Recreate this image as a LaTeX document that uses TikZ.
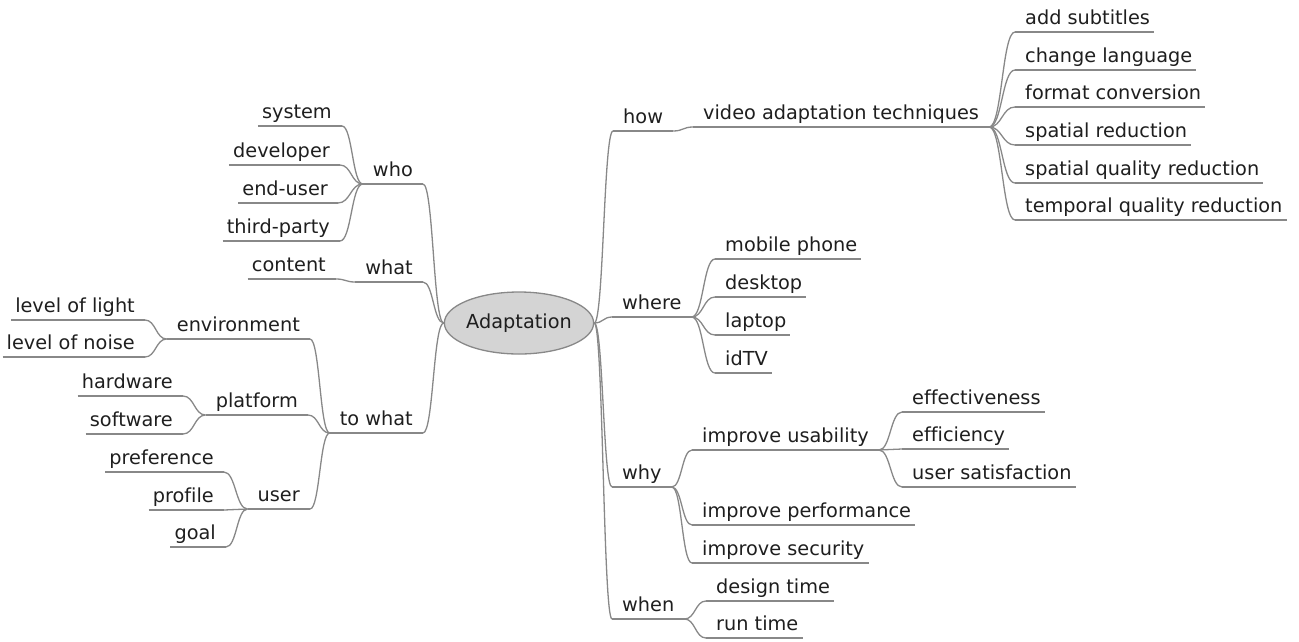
\documentclass[tikz,border=0pt]{standalone}
\usepackage{fontspec}
\setmainfont{DejaVu Sans}[Ligatures=NoCommon]
\usetikzlibrary{calc,shapes.geometric}

\definecolor{edgegray}{HTML}{888888}
\definecolor{rootfill}{HTML}{D4D4D4}
\definecolor{inkgray}{HTML}{1E1E1E}

% horizontal padding between a label and the end of its underline
\newcommand\pd{\hspace*{6pt}}
% smooth branch with horizontal tangents at both ends
\newcommand\mmlink[2]{%
  \draw[edge] let \p1=(#1), \p2=(#2), \n1={0.5*(\x2-\x1)} in
    (\p1) .. controls +(\n1,0pt) and +(-\n1,0pt) .. (\p2);}

\tikzset{
  edge/.style={draw=edgegray, line width=1.3pt},
  mm/.style={font=\fontsize{19.3}{23}\selectfont, text=inkgray,
             inner xsep=4pt, inner ysep=0pt, text height=15pt, text depth=7pt},
  rn/.style={mm, anchor=south west},
  ln/.style={mm, anchor=south east},
  rootnode/.style={ellipse, draw=edgegray, fill=rootfill, line width=1.3pt,
             minimum width=132pt, minimum height=62pt, inner sep=0pt,
             font=\fontsize{19.3}{23}\selectfont, text=inkgray}
}

\begin{document}
\begin{tikzpicture}[x=1pt, y=-1pt]
\useasboundingbox (0,0) rectangle (1299,641);

% central topic
\node[rootnode] (root) at (519,323) {Adaptation};

% ---- right-hand branches ----
\node[rn] (how)   at (613,131) {\pd how\pd};
\node[rn] (vat)   at (693,127) {\pd video adaptation techniques\pd};
\node[rn] (sub)   at (1015,32)  {\pd add subtitles};
\node[rn] (lang)  at (1015,70)  {\pd change language};
\node[rn] (fmt)   at (1015,107) {\pd format conversion};
\node[rn] (spr)   at (1015,145) {\pd spatial reduction};
\node[rn] (sqr)   at (1015,183) {\pd spatial quality reduction};
\node[rn] (tqr)   at (1015,220) {\pd temporal quality reduction};

\node[rn] (where) at (612,317) {\pd where\pd};
\node[rn] (mob)   at (715,259) {\pd mobile phone};
\node[rn] (desk)  at (715,297) {\pd desktop};
\node[rn] (lap)   at (715,335) {\pd laptop};
\node[rn] (idtv)  at (715,373) {\pd idTV};

\node[rn] (why)   at (612,487) {\pd why\pd};
\node[rn] (usab)  at (692,450) {\pd improve usability\pd};
\node[rn] (effv)  at (902,412) {\pd effectiveness};
\node[rn] (effc)  at (902,449) {\pd efficiency};
\node[rn] (sat)   at (902,487) {\pd user satisfaction};
\node[rn] (perf)  at (692,525) {\pd improve performance};
\node[rn] (sec)   at (692,563) {\pd improve security};

\node[rn] (when)  at (612,619) {\pd when\pd};
\node[rn] (dtime) at (706,601) {\pd design time};
\node[rn] (rtime) at (706,638) {\pd run time};

% ---- left-hand branches ----
\node[ln] (who)   at (423,184) {\pd who\pd};
\node[ln] (sys)   at (342,126) {system\pd};
\node[ln] (dev)   at (340,165) {developer\pd};
\node[ln] (endu)  at (338,203) {end-user\pd};
\node[ln] (third) at (340,241) {third-party\pd};

\node[ln] (what)  at (423,282) {\pd what\pd};
\node[ln] (cont)  at (336,279) {content\pd};

\node[ln] (towhat) at (423,433) {\pd to what\pd};
\node[ln] (env)   at (310,339) {\pd environment\pd};
\node[ln] (light) at (145,320) {level of light\pd};
\node[ln] (noise) at (145,357) {level of noise\pd};
\node[ln] (plat)  at (308,415) {\pd platform\pd};
\node[ln] (hw)    at (183,396) {hardware\pd};
\node[ln] (sw)    at (183,434) {software\pd};
\node[ln] (user)  at (310,509) {\pd user\pd};
\node[ln] (pref)  at (224,472) {preference\pd};
\node[ln] (prof)  at (224,510) {profile\pd};
\node[ln] (goal)  at (226,547) {goal\pd};

% underlines
\foreach \n in {how,vat,sub,lang,fmt,spr,sqr,tqr,where,mob,desk,lap,idtv,
                why,usab,effv,effc,sat,perf,sec,when,dtime,rtime,
                who,sys,dev,endu,third,what,cont,towhat,env,light,noise,
                plat,hw,sw,user,pref,prof,goal}
  {\draw[edge] (\n.south west) -- (\n.south east);}

% right-hand connectors
\foreach \c in {how,where,why,when} {\mmlink{root.east}{\c.south west}}
\mmlink{how.south east}{vat.south west}
\foreach \c in {sub,lang,fmt,spr,sqr,tqr} {\mmlink{vat.south east}{\c.south west}}
\foreach \c in {mob,desk,lap,idtv} {\mmlink{where.south east}{\c.south west}}
\foreach \c in {usab,perf,sec} {\mmlink{why.south east}{\c.south west}}
\foreach \c in {effv,effc,sat} {\mmlink{usab.south east}{\c.south west}}
\foreach \c in {dtime,rtime} {\mmlink{when.south east}{\c.south west}}

% left-hand connectors
\foreach \c in {who,what,towhat} {\mmlink{\c.south east}{root.west}}
\foreach \c in {sys,dev,endu,third} {\mmlink{\c.south east}{who.south west}}
\mmlink{cont.south east}{what.south west}
\foreach \c in {env,plat,user} {\mmlink{\c.south east}{towhat.south west}}
\foreach \c in {light,noise} {\mmlink{\c.south east}{env.south west}}
\foreach \c in {hw,sw} {\mmlink{\c.south east}{plat.south west}}
\foreach \c in {pref,prof,goal} {\mmlink{\c.south east}{user.south west}}
\end{tikzpicture}
\end{document}
